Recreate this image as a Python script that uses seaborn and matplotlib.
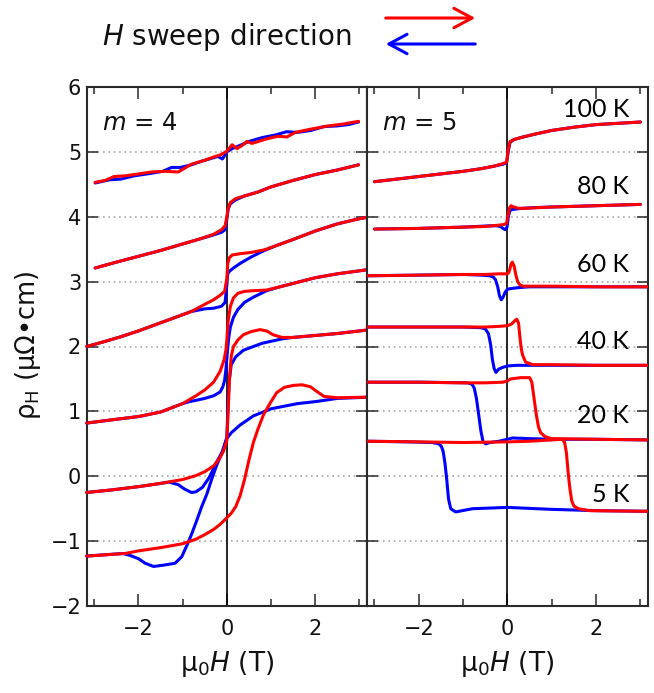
import matplotlib
matplotlib.use("Agg")
import matplotlib.pyplot as plt
from matplotlib.patches import FancyArrowPatch
from matplotlib.ticker import FixedLocator
import pandas as pd
import seaborn as sns

# ---------------- Hall resistivity loops, m = 4 ----------------
# "up" = field swept from -H to +H, "down" = from +H to -H
m4_100K_up_H = [-2.98, -2.75, -2.55, -2.3, -2.0, -1.7, -1.4, -1.1, -0.8, -0.5, -0.3, -0.12, 0.0, 0.12,
                0.23, 0.35, 0.45, 0.57, 0.9, 1.15, 1.36, 1.55, 1.9, 2.3, 2.65, 2.8, 2.98]
m4_100K_up_rho = [4.53, 4.56, 4.62, 4.63, 4.66, 4.69, 4.70, 4.69, 4.81, 4.87, 4.92, 4.96, 5.01, 5.11,
                  5.05, 5.10, 5.16, 5.13, 5.20, 5.24, 5.23, 5.30, 5.35, 5.40, 5.43, 5.45, 5.47]
m4_100K_down_H = [2.98, 2.75, 2.5, 2.2, 1.9, 1.6, 1.35, 1.1, 0.8, 0.5, 0.3, 0.12, 0.0, -0.1, -0.2,
                  -0.35, -0.55, -0.8, -1.05, -1.25, -1.45, -1.8, -2.1, -2.4, -2.65, -2.98]
m4_100K_down_rho = [5.46, 5.42, 5.40, 5.39, 5.33, 5.30, 5.31, 5.26, 5.22, 5.16, 5.10, 5.05, 5.00, 4.89,
                    4.93, 4.90, 4.86, 4.80, 4.76, 4.76, 4.70, 4.66, 4.63, 4.58, 4.57, 4.52]

m4_80K_up_H = [-2.98, -2.5, -2.0, -1.5, -1.0, -0.6, -0.3, -0.12, -0.04, 0.0, 0.03, 0.08, 0.2, 0.4,
               0.7, 1.0, 1.5, 2.0, 2.5, 2.98]
m4_80K_up_rho = [3.21, 3.30, 3.39, 3.48, 3.58, 3.66, 3.73, 3.80, 3.86, 4.00, 4.13, 4.22, 4.28, 4.32,
                 4.38, 4.46, 4.56, 4.65, 4.72, 4.80]
m4_80K_down_H = [2.98, 2.5, 2.0, 1.5, 1.0, 0.7, 0.4, 0.2, 0.08, 0.03, 0.0, -0.04, -0.12, -0.3, -0.6,
                 -1.0, -1.5, -2.0, -2.5, -2.98]
m4_80K_down_rho = [4.80, 4.72, 4.65, 4.56, 4.46, 4.38, 4.32, 4.26, 4.20, 4.12, 3.96, 3.80, 3.76, 3.72,
                   3.66, 3.58, 3.48, 3.39, 3.30, 3.21]

m4_60K_up_H = [-3.17, -2.8, -2.4, -2.0, -1.6, -1.2, -0.8, -0.5, -0.3, -0.15, -0.05, 0.0, 0.02, 0.06,
               0.12, 0.3, 0.55, 0.85, 1.1, 1.5, 2.0, 2.5, 3.0, 3.25]
m4_60K_up_rho = [2.00, 2.07, 2.15, 2.24, 2.34, 2.44, 2.54, 2.65, 2.72, 2.79, 2.85, 3.05, 3.28, 3.37,
                 3.41, 3.43, 3.45, 3.49, 3.55, 3.65, 3.78, 3.89, 3.97, 4.00]
m4_60K_down_H = [3.25, 3.0, 2.5, 2.0, 1.5, 1.1, 0.85, 0.55, 0.3, 0.15, 0.06, 0.02, 0.0, -0.04, -0.12,
                 -0.3, -0.5, -0.65, -0.8, -1.2, -1.6, -2.0, -2.4, -2.8, -3.17]
m4_60K_down_rho = [4.00, 3.97, 3.89, 3.78, 3.65, 3.55, 3.48, 3.38, 3.28, 3.21, 3.16, 3.12, 2.95, 2.68,
                   2.62, 2.59, 2.58, 2.56, 2.54, 2.44, 2.34, 2.24, 2.15, 2.07, 2.00]

m4_40K_up_H = [-3.17, -2.6, -2.0, -1.5, -1.0, -0.7, -0.5, -0.3, -0.15, -0.06, -0.02, 0.0, 0.03, 0.08,
               0.15, 0.25, 0.4, 0.6, 0.9, 1.2, 1.6, 2.0, 2.5, 3.25]
m4_40K_up_rho = [0.82, 0.87, 0.92, 0.99, 1.12, 1.24, 1.33, 1.45, 1.62, 1.80, 1.95, 2.10, 2.40, 2.62,
                 2.75, 2.82, 2.85, 2.86, 2.87, 2.92, 2.99, 3.06, 3.12, 3.19]
m4_40K_down_H = [3.25, 2.5, 2.0, 1.6, 1.2, 0.9, 0.6, 0.4, 0.25, 0.15, 0.08, 0.04, 0.01, -0.02, -0.05,
                 -0.09, -0.15, -0.3, -0.5, -0.7, -0.85, -1.0, -1.5, -2.0, -2.6, -3.17]
m4_40K_down_rho = [3.19, 3.12, 3.06, 2.99, 2.92, 2.86, 2.76, 2.68, 2.57, 2.45, 2.30, 2.12, 1.90, 1.65,
                   1.48, 1.38, 1.30, 1.24, 1.20, 1.17, 1.15, 1.12, 0.99, 0.92, 0.87, 0.82]

m4_20K_up_H = [-3.17, -2.6, -2.0, -1.5, -1.0, -0.7, -0.5, -0.3, -0.18, -0.08, 0.0, 0.03, 0.06, 0.1,
               0.15, 0.25, 0.37, 0.55, 0.75, 0.9, 1.05, 1.25, 1.5, 2.0, 2.5, 3.25]
m4_20K_up_rho = [-0.25, -0.21, -0.16, -0.11, -0.05, 0.01, 0.07, 0.16, 0.26, 0.38, 0.55, 1.00, 1.50,
                 1.85, 2.00, 2.10, 2.18, 2.23, 2.26, 2.24, 2.18, 2.14, 2.14, 2.17, 2.20, 2.26]
m4_20K_down_H = [3.25, 2.5, 2.0, 1.5, 1.27, 1.0, 0.8, 0.6, 0.37, 0.2, 0.1, 0.05, 0.02, 0.0, -0.1,
                 -0.23, -0.4, -0.55, -0.7, -0.8, -0.95, -1.1, -1.3, -1.5, -2.0, -2.6, -3.17]
m4_20K_down_rho = [2.26, 2.20, 2.17, 2.14, 2.12, 2.08, 2.05, 2.00, 1.94, 1.84, 1.72, 1.45, 0.98, 0.60,
                   0.38, 0.22, -0.02, -0.17, -0.24, -0.25, -0.20, -0.13, -0.09, -0.11, -0.16, -0.21,
                   -0.25]

m4_5K_up_H = [-3.17, -2.3, -2.0, -1.5, -1.0, -0.7, -0.5, -0.3, -0.15, 0.0, 0.1, 0.2, 0.3, 0.4, 0.5,
              0.6, 0.7, 0.83, 1.0, 1.13, 1.3, 1.5, 1.7, 1.89, 2.05, 2.2, 2.5, 3.25]
m4_5K_up_rho = [-1.23, -1.19, -1.15, -1.10, -1.04, -0.97, -0.90, -0.82, -0.74, -0.64, -0.57, -0.47,
                -0.30, -0.05, 0.25, 0.52, 0.72, 0.95, 1.15, 1.29, 1.37, 1.40, 1.41, 1.38, 1.30, 1.23,
                1.21, 1.22]
m4_5K_down_H = [3.25, 2.5, 2.0, 1.6, 1.0, 0.6, 0.3, 0.1, 0.0, -0.11, -0.23, -0.34, -0.45, -0.57,
                -0.68, -0.79, -0.9, -1.02, -1.17, -1.43, -1.66, -1.85, -2.0, -2.19, -2.35, -3.17]
m4_5K_down_rho = [1.22, 1.20, 1.15, 1.12, 1.04, 0.93, 0.79, 0.67, 0.58, 0.36, 0.17, -0.04, -0.27,
                  -0.47, -0.68, -0.88, -1.06, -1.24, -1.34, -1.37, -1.39, -1.34, -1.27, -1.22, -1.19,
                  -1.23]

# ---------------- Hall resistivity loops, m = 5 ----------------
m5_100K_up_H = [-3.0, -2.5, -2.0, -1.5, -1.0, -0.6, -0.3, -0.1, -0.02, 0.02, 0.06, 0.15, 0.3, 0.6,
                1.0, 1.5, 2.0, 2.5, 3.0]
m5_100K_up_rho = [4.54, 4.58, 4.62, 4.66, 4.70, 4.74, 4.78, 4.82, 4.84, 5.05, 5.16, 5.19, 5.22, 5.27,
                  5.33, 5.38, 5.42, 5.44, 5.46]
m5_100K_down_H = [3.0, 2.5, 2.0, 1.5, 1.0, 0.6, 0.3, 0.15, 0.06, 0.02, -0.02, -0.1, -0.3, -0.6, -1.0,
                  -1.5, -2.0, -2.5, -3.0]
m5_100K_down_rho = [5.46, 5.44, 5.42, 5.38, 5.33, 5.27, 5.22, 5.19, 5.15, 5.02, 4.83, 4.81, 4.78,
                    4.74, 4.70, 4.66, 4.62, 4.58, 4.54]

m5_80K_up_H = [-3.0, -2.0, -1.0, -0.5, -0.2, -0.08, -0.02, 0.02, 0.05, 0.08, 0.14, 0.25, 0.4, 0.7,
               1.0, 2.0, 3.0]
m5_80K_up_rho = [3.81, 3.82, 3.84, 3.85, 3.87, 3.88, 3.90, 4.06, 4.14, 4.17, 4.15, 4.13, 4.13, 4.14,
                 4.15, 4.17, 4.19]
m5_80K_down_H = [3.0, 2.0, 1.0, 0.6, 0.35, 0.2, 0.1, 0.05, 0.02, -0.01, -0.05, -0.1, -0.16, -0.25,
                 -0.4, -1.0, -2.0, -3.0]
m5_80K_down_rho = [4.19, 4.17, 4.15, 4.14, 4.13, 4.12, 4.11, 4.09, 4.00, 3.84, 3.80, 3.82, 3.85,
                   3.86, 3.86, 3.84, 3.82, 3.81]

m5_60K_up_H = [-3.17, -2.0, -1.0, -0.5, -0.2, -0.05, 0.02, 0.05, 0.08, 0.11, 0.15, 0.19, 0.23, 0.28,
               0.35, 0.5, 1.0, 2.0, 3.17]
m5_60K_up_rho = [3.09, 3.10, 3.11, 3.11, 3.12, 3.12, 3.13, 3.18, 3.27, 3.30, 3.24, 3.10, 3.00, 2.95,
                 2.93, 2.93, 2.93, 2.92, 2.92]
m5_60K_down_H = [3.17, 2.0, 1.0, 0.5, 0.3, 0.15, 0.05, 0.0, -0.05, -0.1, -0.14, -0.18, -0.22, -0.27,
                 -0.32, -0.4, -0.6, -1.0, -2.0, -3.17]
m5_60K_down_rho = [2.92, 2.92, 2.92, 2.92, 2.91, 2.90, 2.89, 2.88, 2.84, 2.76, 2.72, 2.78, 2.92,
                   3.03, 3.07, 3.09, 3.10, 3.11, 3.10, 3.09]

m5_40K_up_H = [-3.17, -2.0, -1.0, -0.5, -0.2, 0.0, 0.1, 0.17, 0.21, 0.25, 0.28, 0.31, 0.34, 0.41,
               0.57, 1.0, 2.0, 3.17]
m5_40K_up_rho = [2.30, 2.30, 2.30, 2.30, 2.31, 2.32, 2.35, 2.40, 2.42, 2.36, 2.15, 1.97, 1.87, 1.76,
                 1.72, 1.72, 1.71, 1.71]
m5_40K_down_H = [3.17, 2.0, 1.0, 0.5, 0.2, 0.0, -0.1, -0.2, -0.26, -0.3, -0.34, -0.38, -0.43, -0.5,
                 -0.6, -1.0, -2.0, -3.17]
m5_40K_down_rho = [1.71, 1.71, 1.71, 1.71, 1.71, 1.70, 1.68, 1.65, 1.60, 1.66, 1.80, 2.03, 2.20,
                   2.27, 2.29, 2.30, 2.30, 2.30]

m5_20K_up_H = [-3.17, -2.0, -1.0, -0.5, -0.1, 0.0, 0.07, 0.3, 0.5, 0.55, 0.6, 0.65, 0.7, 0.75, 0.85,
               1.0, 2.0, 3.17]
m5_20K_up_rho = [1.45, 1.45, 1.44, 1.44, 1.45, 1.47, 1.50, 1.52, 1.52, 1.45, 1.20, 0.95, 0.76, 0.67,
                 0.61, 0.58, 0.57, 0.56]
m5_20K_down_H = [3.17, 2.0, 1.0, 0.5, 0.11, 0.0, -0.19, -0.4, -0.49, -0.55, -0.6, -0.65, -0.7,
                 -0.75, -0.8, -0.9, -2.0, -3.17]
m5_20K_down_rho = [0.56, 0.57, 0.57, 0.58, 0.59, 0.57, 0.54, 0.52, 0.50, 0.53, 0.70, 0.95, 1.20,
                   1.36, 1.42, 1.44, 1.45, 1.45]

m5_5K_up_H = [-3.17, -2.0, -1.0, 0.0, 0.5, 1.0, 1.24, 1.29, 1.33, 1.37, 1.41, 1.45, 1.5, 1.6, 1.85,
              3.17]
m5_5K_up_rho = [0.54, 0.53, 0.52, 0.53, 0.54, 0.56, 0.57, 0.52, 0.36, 0.05, -0.20, -0.38, -0.46,
                -0.50, -0.53, -0.54]
m5_5K_down_H = [3.17, 2.0, 1.0, 0.0, -0.79, -1.17, -1.28, -1.33, -1.37, -1.41, -1.45, -1.49, -1.55,
                -1.7, -2.2, -3.17]
m5_5K_down_rho = [-0.54, -0.53, -0.51, -0.48, -0.50, -0.55, -0.50, -0.35, -0.05, 0.20, 0.38, 0.46,
                  0.50, 0.52, 0.53, 0.54]

temperatures = ["100 K", "80 K", "60 K", "40 K", "20 K", "5 K"]
temp_label_y = [5.65, 4.47, 3.26, 2.08, 0.93, -0.28]
panel_titles = ["$m$ = 4", "$m$ = 5"]

loops = {
    "m4": {
        "100 K": (m4_100K_up_H, m4_100K_up_rho, m4_100K_down_H, m4_100K_down_rho),
        "80 K": (m4_80K_up_H, m4_80K_up_rho, m4_80K_down_H, m4_80K_down_rho),
        "60 K": (m4_60K_up_H, m4_60K_up_rho, m4_60K_down_H, m4_60K_down_rho),
        "40 K": (m4_40K_up_H, m4_40K_up_rho, m4_40K_down_H, m4_40K_down_rho),
        "20 K": (m4_20K_up_H, m4_20K_up_rho, m4_20K_down_H, m4_20K_down_rho),
        "5 K": (m4_5K_up_H, m4_5K_up_rho, m4_5K_down_H, m4_5K_down_rho),
    },
    "m5": {
        "100 K": (m5_100K_up_H, m5_100K_up_rho, m5_100K_down_H, m5_100K_down_rho),
        "80 K": (m5_80K_up_H, m5_80K_up_rho, m5_80K_down_H, m5_80K_down_rho),
        "60 K": (m5_60K_up_H, m5_60K_up_rho, m5_60K_down_H, m5_60K_down_rho),
        "40 K": (m5_40K_up_H, m5_40K_up_rho, m5_40K_down_H, m5_40K_down_rho),
        "20 K": (m5_20K_up_H, m5_20K_up_rho, m5_20K_down_H, m5_20K_down_rho),
        "5 K": (m5_5K_up_H, m5_5K_up_rho, m5_5K_down_H, m5_5K_down_rho),
    },
}


def long_table(panel):
    rows = []
    for temp in temperatures:
        up_h, up_r, dn_h, dn_r = loops[panel][temp]
        for h, r in zip(up_h, up_r):
            rows.append((temp, "up", h, r))
        for h, r in zip(dn_h, dn_r):
            rows.append((temp, "down", h, r))
    return pd.DataFrame(rows, columns=["T", "sweep", "H", "rho"])


sns.set_style("ticks")
plt.rcParams["font.family"] = ["DejaVu Sans"]
plt.rcParams["mathtext.fontset"] = "dejavusans"

RED = "#ff0000"
BLUE = "#0000ff"
SPINE = "#2a2a2a"

fig = plt.figure(figsize=(6.54, 6.93), dpi=100)
ax_l = fig.add_axes([0.1326, 0.1255, 0.4285, 0.749])
ax_r = fig.add_axes([0.5611, 0.1255, 0.4297, 0.749])

for ax, panel, title in ((ax_l, "m4", panel_titles[0]), (ax_r, "m5", panel_titles[1])):
    df = long_table(panel)
    sns.lineplot(data=df, x="H", y="rho", hue="sweep", units="T", estimator=None, sort=False,
                 hue_order=["down", "up"], palette={"down": BLUE, "up": RED}, legend=False,
                 lw=2.2, ax=ax, zorder=3, clip_on=(panel == "m5"))
    ax.axvline(0, color="black", lw=1.2, zorder=2)
    ax.set_xlim(-3.17, 3.17)
    ax.set_ylim(-2, 6)
    ax.xaxis.set_major_locator(FixedLocator([-2, 0, 2]))
    ax.xaxis.set_minor_locator(FixedLocator([-3, -1, 1, 3]))
    ax.yaxis.set_major_locator(FixedLocator(list(range(-2, 7))))
    ax.yaxis.grid(True, linestyle=(0, (1, 2.2)), color="#a8a8a8", lw=1.2, zorder=0)
    ax.set_axisbelow(True)
    ax.tick_params(which="both", direction="in", top=True, right=True, color=SPINE,
                   width=1.1, labelsize=15, labelcolor="#111111")
    ax.tick_params(axis="x", which="major", length=8.5, pad=9)
    ax.tick_params(axis="x", which="minor", length=5)
    ax.tick_params(axis="y", which="major", length=8, pad=4)
    for sp in ax.spines.values():
        sp.set_color(SPINE)
        sp.set_linewidth(1.5)
    ax.set_xlabel(r"$\mathrm{μ}_0H$ (T)", fontsize=19, color="#111111")
    ax.xaxis.set_label_coords(0.5, -0.083)
    ax.set_ylabel("")
    ax.text(-2.83, 5.45, title, fontsize=17.5, va="center", ha="left", color="#111111")

ax_r.tick_params(axis="y", labelleft=False)

for temp, y in zip(temperatures, temp_label_y):
    ax_r.text(2.75, y, temp, ha="right", va="center", fontsize=18, family=["Lato", "DejaVu Sans"],
              color="black", zorder=4)

fig.text(28 / 654, 1 - 345 / 693, r"$\mathrm{ρ_H}$ (μΩ•cm)", rotation=90, ha="center",
         va="center", fontsize=18.5, color="#111111")

# header: sweep direction legend
fig.text(102 / 654, 1 - 45 / 693, r"$H$ sweep direction", fontsize=20, ha="left", va="baseline",
         color="#111111")
arrow_kw = dict(transform=fig.transFigure, arrowstyle="->,head_length=1.3,head_width=0.7",
                mutation_scale=10, lw=2.2)
fig.add_artist(FancyArrowPatch((383 / 654, 1 - 18 / 693), (478 / 654, 1 - 18 / 693),
                               color=RED, **arrow_kw))
fig.add_artist(FancyArrowPatch((478 / 654, 1 - 44 / 693), (383 / 654, 1 - 44 / 693),
                               color=BLUE, **arrow_kw))

fig.savefig("out.png", dpi=100)
